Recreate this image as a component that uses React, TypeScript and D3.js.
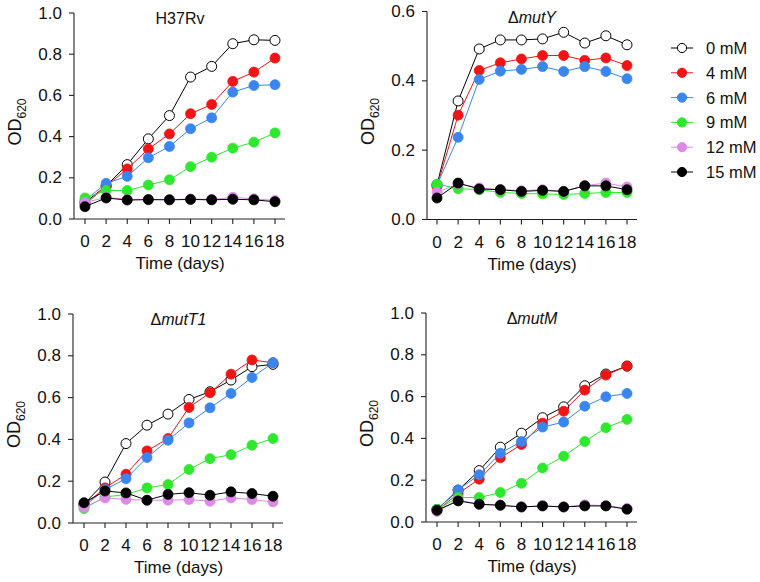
import React from "react";
import * as d3 from "d3";

// ---------- data ----------
const days = [0, 2, 4, 6, 8, 10, 12, 14, 16, 18];
const concentrations = ["0 mM", "4 mM", "6 mM", "9 mM", "12 mM", "15 mM"];
const panelNames = ["H37Rv", "mutY", "mutT1", "mutM"];
const panelDelta = [false, true, true, true];
const panelYMax = [1.0, 0.6, 1.0, 1.0];
const yTicksFull = [0, 0.2, 0.4, 0.6, 0.8, 1.0];
const yTicksShort = [0, 0.2, 0.4, 0.6];
const xTicks = [0, 2, 4, 6, 8, 10, 12, 14, 16, 18];

const h37rvOD = [
  [0.08, 0.16, 0.264, 0.389, 0.502, 0.689, 0.741, 0.851, 0.87, 0.867],
  [0.07, 0.16, 0.243, 0.34, 0.413, 0.511, 0.556, 0.668, 0.713, 0.781],
  [0.09, 0.173, 0.207, 0.297, 0.352, 0.438, 0.491, 0.616, 0.648, 0.652],
  [0.102, 0.138, 0.138, 0.165, 0.19, 0.254, 0.3, 0.344, 0.373, 0.418],
  [0.08, 0.105, 0.095, 0.096, 0.094, 0.097, 0.095, 0.105, 0.098, 0.09],
  [0.06, 0.102, 0.092, 0.094, 0.093, 0.095, 0.093, 0.096, 0.093, 0.084],
];
const mutYOD = [
  [0.1, 0.342, 0.492, 0.518, 0.518, 0.521, 0.54, 0.509, 0.53, 0.504],
  [0.095, 0.301, 0.43, 0.452, 0.463, 0.473, 0.473, 0.459, 0.466, 0.444],
  [0.1, 0.237, 0.404, 0.428, 0.433, 0.441, 0.427, 0.441, 0.427, 0.406],
  [0.102, 0.089, 0.086, 0.078, 0.075, 0.074, 0.072, 0.075, 0.078, 0.078],
  [0.078, 0.103, 0.091, 0.086, 0.083, 0.086, 0.081, 0.098, 0.105, 0.094],
  [0.062, 0.105, 0.088, 0.086, 0.081, 0.084, 0.081, 0.097, 0.097, 0.086],
];
const mutT1OD = [
  [0.09, 0.196, 0.38, 0.468, 0.521, 0.591, 0.628, 0.684, 0.748, 0.759],
  [0.085, 0.168, 0.233, 0.345, 0.404, 0.553, 0.623, 0.712, 0.78, 0.767],
  [0.08, 0.16, 0.212, 0.313, 0.396, 0.479, 0.551, 0.62, 0.696, 0.767],
  [0.069, 0.125, 0.136, 0.168, 0.184, 0.256, 0.308, 0.327, 0.372, 0.404],
  [0.075, 0.12, 0.113, 0.109, 0.109, 0.112, 0.104, 0.12, 0.112, 0.101],
  [0.097, 0.153, 0.144, 0.109, 0.137, 0.145, 0.133, 0.149, 0.141, 0.128],
];
const mutMOD = [
  [0.06, 0.152, 0.246, 0.358, 0.425, 0.499, 0.551, 0.652, 0.708, 0.746],
  [0.055, 0.136, 0.205, 0.307, 0.371, 0.473, 0.53, 0.631, 0.703, 0.746],
  [0.06, 0.154, 0.226, 0.329, 0.385, 0.454, 0.478, 0.554, 0.599, 0.615],
  [0.06, 0.117, 0.117, 0.141, 0.185, 0.258, 0.315, 0.385, 0.451, 0.491],
  [0.05, 0.105, 0.085, 0.08, 0.072, 0.077, 0.072, 0.082, 0.078, 0.065],
  [0.056, 0.101, 0.085, 0.08, 0.072, 0.077, 0.072, 0.077, 0.077, 0.061],
];
const panelData = [h37rvOD, mutYOD, mutT1OD, mutMOD];

// ---------- styles / layout ----------
const lineColors = ["#000000", "#f21414", "#3a86ee", "#2ee82e", "#dc8ae8", "#000000"];
const fillColors = ["#ffffff", "#f21414", "#3a86ee", "#2ee82e", "#dc8ae8", "#000000"];
const layout = [
  { axisX: 74, x0: 85, x1: 275, yTop: 13, yBot: 219 },
  { axisX: 427, x0: 437, x1: 627, yTop: 11.5, yBot: 219.5 },
  { axisX: 73, x0: 84, x1: 273, yTop: 314, yBot: 523 },
  { axisX: 426, x0: 437, x1: 627, yTop: 313, yBot: 522 },
];
const FONT = "'Liberation Sans', Arial, sans-serif";
const R = 5;

function Panel({ idx }: { idx: number }) {
  const L = layout[idx];
  const yMax = panelYMax[idx];
  const x = d3.scaleLinear().domain([0, 18]).range([L.x0, L.x1]);
  const y = d3.scaleLinear().domain([0, yMax]).range([L.yBot, L.yTop]);
  const yTicks = yMax < 1 ? yTicksShort : yTicksFull;
  const line = d3
    .line<number>()
    .x((_, i) => x(days[i]))
    .y((v) => y(v));
  const series = panelData[idx];
  const cx = (L.x0 + L.x1) / 2;
  const cy = (L.yTop + L.yBot) / 2;
  return (
    <g>
      {/* axes */}
      <line x1={L.axisX} x2={L.axisX} y1={L.yTop} y2={L.yBot} stroke="#222" strokeWidth={1.1} />
      <line x1={L.axisX} x2={L.x1 + 10} y1={L.yBot} y2={L.yBot} stroke="#222" strokeWidth={1.1} />
      {yTicks.map((t) => (
        <g key={"y" + t}>
          <line x1={L.axisX - 5} x2={L.axisX} y1={y(t)} y2={y(t)} stroke="#222" strokeWidth={1.1} />
          <text
            x={L.axisX - 12}
            y={y(t)}
            textAnchor="end"
            dominantBaseline="central"
            fontFamily={FONT}
            fontSize={17}
            fill="#111"
          >
            {t.toFixed(1)}
          </text>
        </g>
      ))}
      {xTicks.map((t) => (
        <g key={"x" + t}>
          <line x1={x(t)} x2={x(t)} y1={L.yBot} y2={L.yBot + 5} stroke="#222" strokeWidth={1.1} />
          <text x={x(t)} y={L.yBot + 28} textAnchor="middle" fontFamily={FONT} fontSize={17} fill="#111">
            {t}
          </text>
        </g>
      ))}
      <text x={cx} y={L.yBot + 50} textAnchor="middle" fontFamily={FONT} fontSize={17} fill="#111">
        Time (days)
      </text>
      <text
        transform={`translate(${L.axisX - 53},${cy + 6}) rotate(-90)`}
        textAnchor="middle"
        fontFamily={FONT}
        fontSize={18}
        fill="#111"
      >
        OD
        <tspan fontSize={12} dy={5}>
          620
        </tspan>
      </text>
      <text x={cx} y={L.yTop + 11} textAnchor="middle" fontFamily={FONT} fontSize={16} fill="#111">
        {panelDelta[idx] ? (
          <>
            <tspan>Δ</tspan>
            <tspan fontStyle="italic">{panelNames[idx]}</tspan>
          </>
        ) : (
          panelNames[idx]
        )}
      </text>
      {/* series */}
      {series.map((vals, si) => (
        <g key={"s" + si}>
          <path d={line(vals) || ""} fill="none" stroke={lineColors[si]} strokeWidth={1} />
          {vals.map((v, i) => (
            <circle
              key={i}
              cx={x(days[i])}
              cy={y(v)}
              r={R}
              fill={fillColors[si]}
              stroke={lineColors[si]}
              strokeWidth={si === 0 ? 1 : 0.8}
            />
          ))}
        </g>
      ))}
    </g>
  );
}

function Legend() {
  const rows = d3.scalePoint<string>().domain(concentrations).range([48, 172]);
  return (
    <g>
      {concentrations.map((c, i) => {
        const yy = rows(c) as number;
        return (
          <g key={c}>
            <line x1={671} x2={693} y1={yy} y2={yy} stroke={lineColors[i]} strokeWidth={1} />
            <circle cx={682} cy={yy} r={4.6} fill={fillColors[i]} stroke={lineColors[i]} strokeWidth={1} />
            <text x={706} y={yy} dominantBaseline="central" fontFamily={FONT} fontSize={16.5} fill="#111">
              {c}
            </text>
          </g>
        );
      })}
    </g>
  );
}

export default function App() {
  return (
    <svg
      width={760}
      height={582}
      viewBox="0 0 760 582"
      style={{ position: "absolute", left: 0, top: 0, background: "#fff" }}
    >
      <rect width={760} height={582} fill="#fff" />
      {[0, 1, 2, 3].map((i) => (
        <Panel key={i} idx={i} />
      ))}
      <Legend />
    </svg>
  );
}
